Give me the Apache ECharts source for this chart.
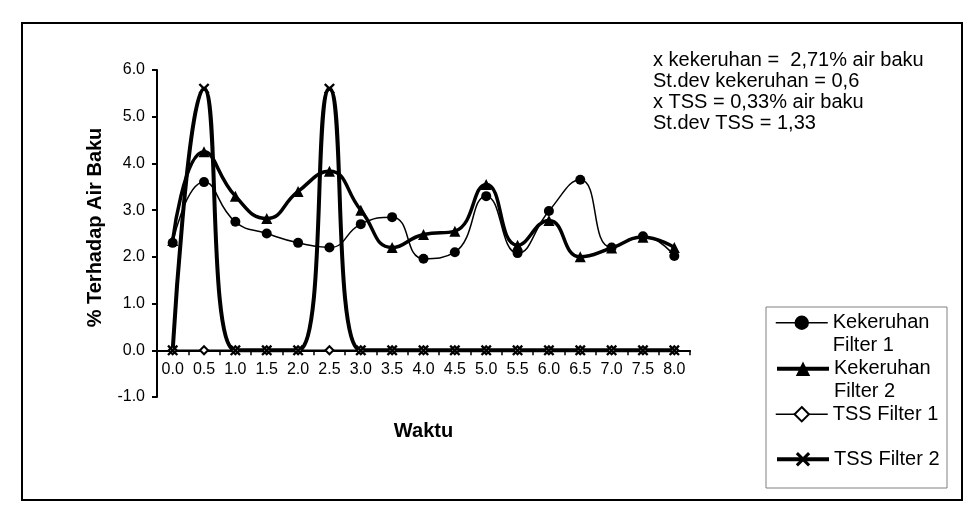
<!DOCTYPE html>
<html>
<head>
<meta charset="utf-8">
<style>
  html, body { margin: 0; padding: 0; background: #fff; }
  #chart { width: 977px; height: 520px; }
</style>
<script src="https://cdn.jsdelivr.net/npm/echarts@6/dist/echarts.min.js"></script>
</head>
<body>
<div id="chart"></div>
<script>
// data
const waktu = ['0.0', '0.5', '1.0', '1.5', '2.0', '2.5', '3.0', '3.5', '4.0',
  '4.5', '5.0', '5.5', '6.0', '6.5', '7.0', '7.5', '8.0']
const kekeruhanF1 = [2.3, 3.6, 2.75, 2.5, 2.3, 2.2, 2.7, 2.85, 1.96, 2.1, 3.3, 2.08, 2.98, 3.65, 2.2, 2.44, 2.02]
const kekeruhanF2 = [2.35, 4.25, 3.3, 2.82, 3.4, 3.83, 3.0, 2.2, 2.48, 2.55, 3.55, 2.25, 2.78, 2.0, 2.19, 2.42, 2.2]
const tssF1 = [0, 0, 0, 0, 0, 0, 0, 0, 0, 0, 0, 0, 0, 0, 0, 0, 0]
const tssF2 = [0, 5.6, 0, 0, 0, 5.6, 0, 0, 0, 0, 0, 0, 0, 0, 0, 0, 0]
const yTicks = { min: -1, max: 6, interval: 1 }
const notes = [
  'x kekeruhan =  2,71% air baku',
  'St.dev kekeruhan = 0,6',
  'x TSS = 0,33% air baku',
  'St.dev TSS = 1,33'
]

const FONT = '"Liberation Sans", Arial, sans-serif'
const crossPath = 'path://M0,1.5L1.5,0L5,3.5L8.5,0L10,1.5L6.5,5L10,8.5L8.5,10L5,6.5L1.5,10L0,8.5L3.5,5Z'

const chart = echarts.init(document.getElementById('chart'), null, { renderer: 'canvas' })

// one legend per entry; two-line names get an empty first line so the
// symbol sits next to "Kekeruhan" like in the original
const legendRow = (name, top, lineWidth, twoLine) => ({
  orient: 'vertical',
  left: 775,
  top: top,
  padding: 0,
  itemWidth: 52,
  itemHeight: 18,
  itemGap: 0,
  selectedMode: false,
  data: [name],
  lineStyle: { width: lineWidth },
  formatter: n => (twoLine ? '\n' + n : n),
  textStyle: {
    fontFamily: FONT,
    fontSize: 20,
    color: '#000',
    lineHeight: 22.5
  }
})

const option = {
  backgroundColor: '#fff',
  animation: false,
  textStyle: { fontFamily: FONT },
  grid: {
    left: 157,
    right: 287,
    top: 70,
    bottom: 123,
    containLabel: false,
    outerBoundsMode: 'none'
  },
  legend: [
    legendRow('Kekeruhan\nFilter 1', 289, 1.5, true),
    legendRow('Kekeruhan\nFilter 2', 335, 4, true),
    legendRow('TSS Filter 1', 403, 1.5, false),
    legendRow('TSS Filter 2', 448, 4, false)
  ],
  xAxis: {
    type: 'category',
    data: waktu,
    boundaryGap: true,
    name: 'Waktu',
    nameLocation: 'middle',
    nameGap: 24,
    nameTextStyle: { fontFamily: FONT, fontSize: 20, fontWeight: 'bold', color: '#000' },
    axisLine: { onZero: true, lineStyle: { color: '#000', width: 2 } },
    axisTick: { show: true, interval: 0, length: 5, lineStyle: { color: '#000', width: 1.5 } },
    axisLabel: { interval: 0, fontFamily: FONT, fontSize: 16, color: '#000', margin: -35 },
    splitLine: { show: false }
  },
  yAxis: {
    type: 'value',
    min: yTicks.min,
    max: yTicks.max,
    interval: yTicks.interval,
    name: '% Terhadap Air Baku',
    nameLocation: 'middle',
    nameGap: 52,
    nameTextStyle: {
      fontFamily: FONT, fontSize: 20, fontWeight: 'bold', color: '#000',
      padding: [0, 0, 0, 12]
    },
    axisLine: { show: true, lineStyle: { color: '#000', width: 2 } },
    axisTick: { show: true, length: 5, lineStyle: { color: '#000', width: 2 } },
    axisLabel: {
      fontFamily: FONT, fontSize: 16, color: '#000', margin: 12,
      formatter: v => v.toFixed(1)
    },
    splitLine: { show: false }
  },
  series: [
    {
      name: 'Kekeruhan\nFilter 1',
      type: 'line',
      data: kekeruhanF1,
      smooth: 0.5,
      symbol: 'circle',
      symbolSize: 10,
      lineStyle: { color: '#000', width: 1.5 },
      itemStyle: { color: '#000' }
    },
    {
      name: 'Kekeruhan\nFilter 2',
      type: 'line',
      data: kekeruhanF2,
      smooth: 0.5,
      symbol: 'triangle',
      symbolSize: 11,
      lineStyle: { color: '#000', width: 3.5 },
      itemStyle: { color: '#000' }
    },
    {
      name: 'TSS Filter 1',
      type: 'line',
      data: tssF1,
      smooth: 0.5,
      symbol: 'emptyDiamond',
      symbolSize: 8,
      lineStyle: { color: '#000', width: 1.5 },
      itemStyle: { color: '#000', borderWidth: 1.2 }
    },
    {
      name: 'TSS Filter 2',
      type: 'line',
      data: tssF2,
      smooth: 0.5,
      symbol: crossPath,
      symbolSize: 11,
      lineStyle: { color: '#000', width: 4 },
      itemStyle: { color: '#000' }
    }
  ],
  graphic: [
    {
      type: 'rect',
      shape: { x: 22, y: 23, width: 940, height: 477 },
      style: { fill: 'none', stroke: '#000', lineWidth: 2 },
      silent: true
    },
    {
      type: 'rect',
      shape: { x: 766, y: 307, width: 181, height: 181 },
      style: { fill: 'none', stroke: '#808080', lineWidth: 1 },
      silent: true
    },
    {
      type: 'text',
      left: 653,
      top: 50,
      style: {
        text: notes.join('\n'),
        fontFamily: FONT,
        fontSize: 20,
        lineHeight: 21,
        fill: '#000'
      },
      silent: true
    }
  ]
}

chart.setOption(option)
</script>
</body>
</html>
